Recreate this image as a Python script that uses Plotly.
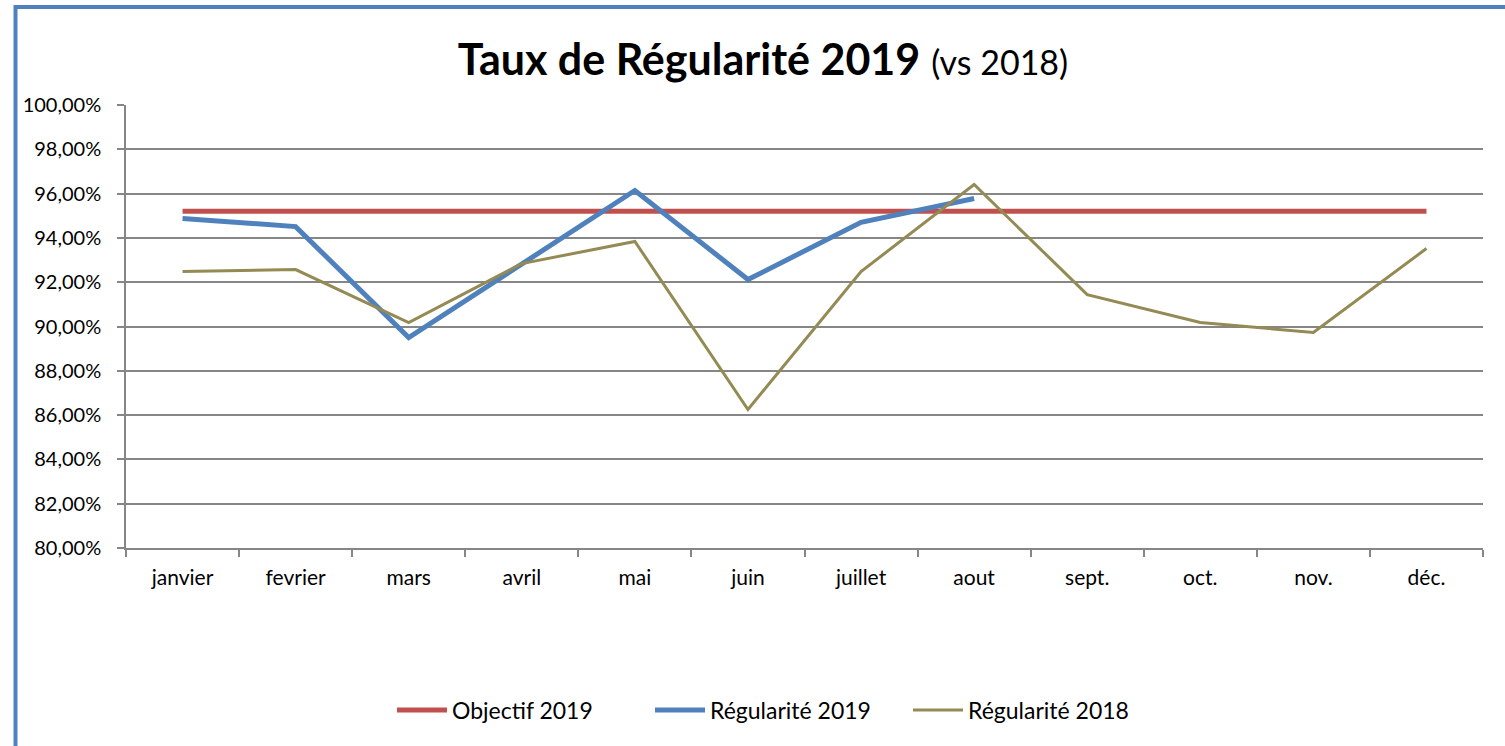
import plotly.graph_objects as go

months = ["janvier", "fevrier", "mars", "avril", "mai", "juin", "juillet", "aout", "sept.", "oct.", "nov.", "déc."]
objectif_2019 = [95.2] * 12
regularite_2019 = [94.88, 94.51, 89.50, 92.80, 96.14, 92.12, 94.70, 95.78]
regularite_2018 = [92.48, 92.57, 90.18, 92.84, 93.84, 86.25, 92.48, 96.41, 91.44, 90.18, 89.73, 93.52]
y_ticks = [80, 82, 84, 86, 88, 90, 92, 94, 96, 98, 100]
y_tick_labels = ["80,00%", "82,00%", "84,00%", "86,00%", "88,00%", "90,00%", "92,00%", "94,00%", "96,00%", "98,00%", "100,00%"]

FONT = "Lato"
W, H = 1505, 746
ML, MR, MT, MB = 126, 22, 105, 198
pw = W - ML - MR
ph = H - MT - MB

fig = go.Figure()
fig.add_trace(go.Scatter(x=months, y=objectif_2019, mode="lines", name="Objectif 2019",
                         line=dict(color="#C0504D", width=5)))
fig.add_trace(go.Scatter(x=months[:len(regularite_2019)], y=regularite_2019, mode="lines", name="Régularité 2019",
                         line=dict(color="#4F81BD", width=5)))
fig.add_trace(go.Scatter(x=months, y=regularite_2018, mode="lines", name="Régularité 2018",
                         line=dict(color="#948A54", width=3)))

fig.update_layout(
    width=W, height=H,
    margin=dict(l=ML, r=MR, t=MT, b=MB),
    paper_bgcolor="white", plot_bgcolor="white",
    font=dict(family=FONT, size=20, color="black"),
    title=dict(text="<b>Taux de Régularité 2019</b> <span style='font-size:34px'>(vs 2018)</span>",
               x=763 / W, xanchor="center", y=1 - 60 / H, yanchor="middle",
               font=dict(family=FONT, size=43, color="black")),
    showlegend=True,
    legend=dict(orientation="h", x=(392 - ML) / pw, xanchor="left",
                y=(ph - (710 - MT)) / ph, yanchor="middle",
                font=dict(family=FONT, size=23), itemwidth=50, traceorder="normal",
                entrywidth=193, entrywidthmode="pixels"),
    xaxis=dict(type="category", showgrid=False, showline=True, linecolor="#868686", linewidth=1.5,
               ticks="outside", tickson="boundaries", ticklen=7, tickcolor="#868686", tickwidth=1.5,
               tickfont=dict(size=21), range=[-0.5, 11.5], ticklabelstandoff=10),
    yaxis=dict(range=[80, 100], tickvals=y_ticks, ticktext=y_tick_labels,
               showgrid=True, gridcolor="#868686", gridwidth=1.5,
               showline=True, linecolor="#868686", linewidth=1.5,
               ticks="outside", ticklen=7, tickcolor="#868686", tickwidth=1.5,
               tickfont=dict(size=20), zeroline=False, ticklabelstandoff=12),
)

# chart border (blue frame, cropped on right and bottom)
fig.add_shape(type="rect", xref="paper", yref="paper",
              x0=(15.5 - ML) / pw, x1=1.2, y0=-1.0, y1=(ph - (7 - MT)) / ph,
              line=dict(color="#4F81BD", width=4), fillcolor="rgba(0,0,0,0)", layer="below")

fig.write_html("out.html", config={"displayModeBar": False},
               post_script="document.body.style.margin='0';document.body.style.padding='0';")
